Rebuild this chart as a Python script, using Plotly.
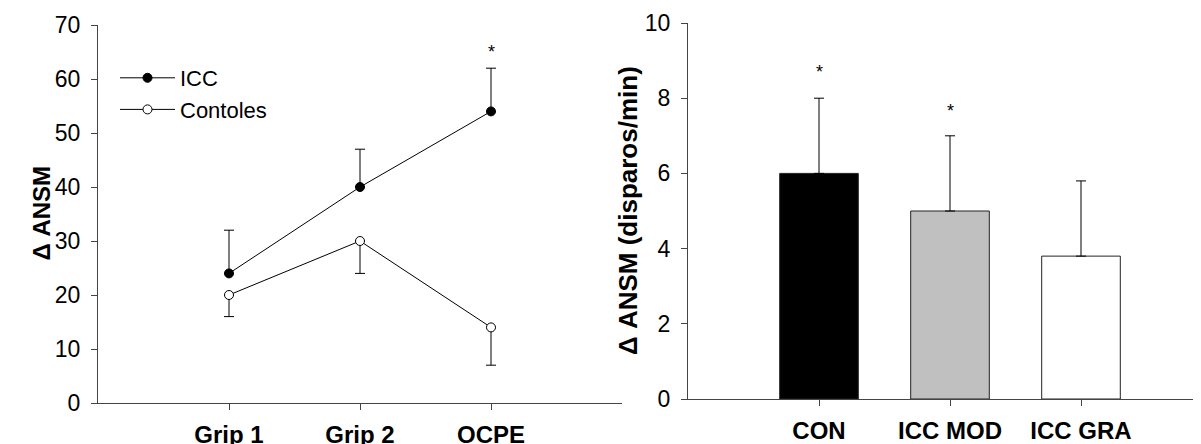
import plotly.graph_objects as go

# ---- Left panel data ----
phases = ["Grip 1", "Grip 2", "OCPE"]
phase_pos = [1, 2, 3]
icc_vals = [24, 40, 54]
icc_err_up = [8, 7, 8]
ctrl_vals = [20, 30, 14]
ctrl_err_down = [4, 6, 7]
left_star_pos = [3]
left_star_y = [65.5]

# ---- Right panel data ----
groups = ["CON", "ICC MOD", "ICC GRA"]
group_vals = [6.0, 5.0, 3.8]
group_err_up = [2.0, 2.0, 2.0]
group_colors = ["#000000", "#c0c0c0", "#ffffff"]
right_star_groups = ["CON", "ICC MOD"]
right_star_y = [8.75, 7.72]

FONT = "Liberation Sans, Arial, sans-serif"
AXC = "#444444"
OFF = 8  # default page body margin
W, H = 1201 - OFF, 444 - OFF


def px_x(p):
    return (p - OFF) / W


def px_y(p):
    return (H - (p - OFF)) / H


fig = go.Figure()

fig.add_trace(go.Scatter(
    x=phase_pos, y=icc_vals, mode="lines+markers", name="ICC",
    line=dict(color="black", width=1),
    marker=dict(color="black", size=9, line=dict(color="black", width=1)),
    error_y=dict(type="data", symmetric=False, array=icc_err_up,
                 arrayminus=[0] * len(icc_vals), color="black", thickness=1, width=5),
    xaxis="x", yaxis="y"))
fig.add_trace(go.Scatter(
    x=phase_pos, y=ctrl_vals, mode="lines+markers", name="Contoles",
    line=dict(color="black", width=1),
    marker=dict(color="white", size=9, line=dict(color="black", width=1)),
    error_y=dict(type="data", symmetric=False, array=[0] * len(ctrl_vals),
                 arrayminus=ctrl_err_down, color="black", thickness=1, width=5),
    xaxis="x", yaxis="y"))

fig.add_trace(go.Bar(
    x=groups, y=group_vals, width=0.6, showlegend=False,
    marker=dict(color=group_colors, line=dict(color="#222222", width=1)),
    error_y=dict(type="data", symmetric=False, array=group_err_up,
                 arrayminus=[0] * len(group_vals), color="black", thickness=1, width=5),
    xaxis="x2", yaxis="y2"))

annotations = []
for xp, yv in zip(left_star_pos, left_star_y):
    annotations.append(dict(x=xp, y=yv, xref="x", yref="y", text="*", showarrow=False,
                            yshift=-3, font=dict(family=FONT, size=18, color="black")))
for g, yv in zip(right_star_groups, right_star_y):
    annotations.append(dict(x=g, y=yv, xref="x2", yref="y2", text="*", showarrow=False,
                            yshift=-2, font=dict(family=FONT, size=18, color="black")))

annotations.append(dict(x=px_x(25), y=px_y(213), xref="paper", yref="paper",
                        text="<b>Δ ANSM</b>", textangle=-90, showarrow=False,
                        font=dict(family=FONT, size=24, color="black")))
annotations.append(dict(x=px_x(628), y=px_y(211), xref="paper", yref="paper",
                        text="<b>Δ ANSM (disparos/min)</b>", textangle=-90, showarrow=False,
                        font=dict(family=FONT, size=26, color="black")))

common_axis = dict(showline=True, linecolor=AXC, linewidth=1, ticks="outside",
                   ticklen=6, tickcolor=AXC, tickwidth=1, showgrid=False,
                   zeroline=False, automargin=False)

fig.update_layout(
    width=W, height=H,
    margin=dict(l=0, r=0, t=0, b=0),
    paper_bgcolor="white", plot_bgcolor="white",
    font=dict(family=FONT, color="black"),
    xaxis=dict(domain=[px_x(98), px_x(622)], range=[0, 4], tickvals=phase_pos,
               ticktext=[f"<b>{p}</b>" for p in phases], ticklabelstandoff=4,
               tickfont=dict(size=24, family=FONT), anchor="y", **common_axis),
    yaxis=dict(domain=[px_y(403), px_y(25)], range=[0, 70], dtick=10,
               ticklabelstandoff=6,
               tickfont=dict(size=23, family=FONT), anchor="x", **common_axis),
    xaxis2=dict(domain=[px_x(688), 1.0], range=[-1, 2.916],
                tickvals=groups, ticktext=[f"<b>{g}</b>" for g in groups],
                ticklabelstandoff=4,
                tickfont=dict(size=24, family=FONT), anchor="y2", **common_axis),
    yaxis2=dict(domain=[px_y(399), px_y(23)], range=[0, 10], dtick=2,
                ticklabelstandoff=6,
                tickfont=dict(size=23, family=FONT), anchor="x2", **common_axis),
    legend=dict(x=px_x(115), y=px_y(57), xanchor="left", yanchor="top",
                bgcolor="rgba(0,0,0,0)", font=dict(size=22, family=FONT),
                itemwidth=55, tracegroupgap=0),
    annotations=annotations,
)

fig.write_html("out.html")
